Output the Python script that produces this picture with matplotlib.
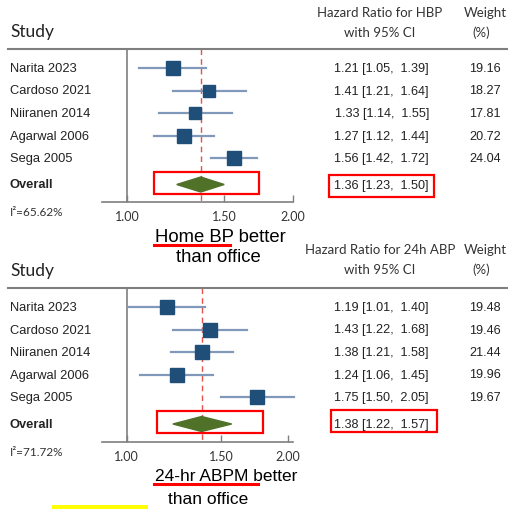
import matplotlib.pyplot as plt
from matplotlib.patches import Polygon, Rectangle

# data
studies = ["Narita 2023", "Cardoso 2021", "Niiranen 2014", "Agarwal 2006", "Sega 2005"]

hbp_hr = [1.21, 1.41, 1.33, 1.27, 1.56]
hbp_lo = [1.05, 1.21, 1.14, 1.12, 1.42]
hbp_hi = [1.39, 1.64, 1.55, 1.44, 1.72]
hbp_w = [19.16, 18.27, 17.81, 20.72, 24.04]
hbp_pool = [1.36, 1.23, 1.50]
hbp_i2 = 65.62

abp_hr = [1.19, 1.43, 1.38, 1.24, 1.75]
abp_lo = [1.01, 1.22, 1.21, 1.06, 1.50]
abp_hi = [1.40, 1.68, 1.58, 1.45, 2.05]
abp_w = [19.48, 19.46, 21.44, 19.96, 19.67]
abp_pool = [1.38, 1.22, 1.57]
abp_i2 = 71.72

ticks = [1.0, 1.5, 2.0]
tick_labels = ["1.00", "1.50", "2.00"]

W, H = 508, 510
fig = plt.figure(figsize=(W / 100, H / 100), dpi=100)


def fx(x):
    return x / W


def fy(y):
    return 1 - y / H


SQ = "#1f4e79"
CI = "#8099bb"
DIA = "#4f7128"
GREY = "#7f7f7f"
RED = "#ff0000"
ARIAL = "Liberation Sans"
CAL = "Lato"


def red_box(x0, y0, x1, y1):
    fig.patches.append(Rectangle((fx(x0), fy(y1)), fx(x1) - fx(x0), fy(y0) - fy(y1),
                                 transform=fig.transFigure, fill=False,
                                 edgecolor=RED, linewidth=1.6))


def panel(hr, lo, hi, w, pool, i2, hdr, rows, y_line, y_axis, xmax, off_lbl):
    # header
    fig.text(fx(10), fy(hdr[0]), "Study", family=CAL, fontsize=12.5, color="#222222", va="center")
    fig.text(fx(380), fy(hdr[1]), hdr[3], family=CAL, fontsize=9.5, color="#333333",
             ha="center", va="center")
    fig.text(fx(380), fy(hdr[2]), "with 95% CI", family=CAL, fontsize=9.5, color="#333333",
             ha="center", va="center")
    fig.text(fx(485), fy(hdr[1]), "Weight", family=CAL, fontsize=9.5, color="#333333",
             ha="center", va="center")
    fig.text(fx(481), fy(hdr[2]), "(%)", family=CAL, fontsize=9.5, color="#333333",
             ha="center", va="center")
    fig.add_artist(plt.Line2D([fx(8), fx(508)], [fy(y_line), fy(y_line)],
                              color=GREY, linewidth=1.5))

    ax = fig.add_axes([fx(102), fy(y_axis), fx(293) - fx(102), (y_axis - y_line) / H])
    ax.set_xscale("log")
    ax.set_xlim(0.9, xmax)
    ax.set_ylim(y_axis, y_line)
    ax.patch.set_alpha(0)
    for s in ["top", "left", "right"]:
        ax.spines[s].set_visible(False)
    ax.spines["bottom"].set_color(GREY)
    ax.spines["bottom"].set_linewidth(1.2)
    ax.set_xticks(ticks, tick_labels, minor=False)
    ax.set_xticks([], minor=True)
    ax.set_yticks([])
    ax.tick_params(axis="x", direction="in", length=5, color=GREY, width=1,
                   labelsize=9, labelcolor="#333333", pad=6)
    for t in ax.get_xticklabels():
        t.set_family(CAL)

    ax.plot([1, 1], [y_line, y_axis], color=GREY, linewidth=1.2)
    ax.plot([pool[0], pool[0]], [y_line, y_axis + 1], color="#e8504a", linewidth=1,
            linestyle=(0, (4, 3)), clip_on=False, zorder=1)

    for i in range(len(studies)):
        y = rows[i]
        ax.plot([lo[i], hi[i]], [y, y], color=CI, linewidth=1.6, clip_on=False, zorder=2)
        ax.plot(hr[i], y, marker="s", markersize=3.0 * w[i] ** 0.5 * 0.72,
                color=SQ, linestyle="none", zorder=3)
        fig.text(fx(10), fy(y), studies[i], family=ARIAL, fontsize=9.3, color="#222222",
                 va="center")
        fig.text(fx(429), fy(y), "%.2f [%.2f,  %.2f]" % (hr[i], lo[i], hi[i]),
                 family=ARIAL, fontsize=9.1, color="#222222", ha="right", va="center")
        fig.text(fx(501), fy(y), "%.2f" % w[i], family=ARIAL, fontsize=9.1,
                 color="#222222", ha="right", va="center")

    yo = rows[5]
    ax.add_patch(Polygon([(pool[1], yo), (pool[0], yo - 7.5), (pool[2], yo), (pool[0], yo + 7.5)],
                         closed=True, facecolor=DIA, edgecolor=DIA, zorder=3))
    fig.text(fx(10), fy(yo), "Overall", family=ARIAL, fontsize=9.3, weight="bold",
             color="#222222", va="center")
    fig.text(fx(429), fy(yo), "%.2f [%.2f,  %.2f]" % (pool[0], pool[1], pool[2]),
             family=ARIAL, fontsize=9.1, color="#222222", ha="right", va="center")
    fig.text(fx(10), fy(y_axis + 10), "I²=%.2f%%" % i2, family=CAL, fontsize=8.5,
             color="#333333", va="center")

    # better-than-office note
    fig.text(fx(155), fy(off_lbl[0]), off_lbl[3], family=ARIAL, fontsize=off_lbl[5],
             color="black", va="center")
    fig.text(fx(off_lbl[4]), fy(off_lbl[2]), "than office", family=ARIAL, fontsize=off_lbl[5],
             color="black", ha="center", va="center")
    fig.add_artist(plt.Line2D([fx(154), fx(off_lbl[6])], [fy(off_lbl[1]), fy(off_lbl[1])],
                              color=RED, linewidth=2.2))


panel(hbp_hr, hbp_lo, hbp_hi, hbp_w, hbp_pool, hbp_i2,
      (32, 13, 33, "Hazard Ratio for HBP"),
      [69, 91.5, 114, 136.7, 159.3, 185.5], 50, 203, 2.0,
      (237, 246, 258, "Home BP better", 218, 13.3, 230))
red_box(154, 173, 259, 195)
red_box(329, 176, 434, 198)

panel(abp_hr, abp_lo, abp_hi, abp_w, abp_pool, abp_i2,
      (271, 250, 270, "Hazard Ratio for 24h ABP"),
      [308, 330.5, 353, 375.5, 398, 425], 289, 443, 2.043,
      (477, 485, 500, "24-hr ABPM better", 208, 12.5, 258))
red_box(157, 412, 263, 434)
red_box(331, 411, 437, 433)

fig.patches.append(Rectangle((fx(52), 0), fx(148) - fx(52), 4 / H, transform=fig.transFigure,
                             facecolor="#ffff00", edgecolor="none"))

fig.savefig("out.png", dpi=100)
